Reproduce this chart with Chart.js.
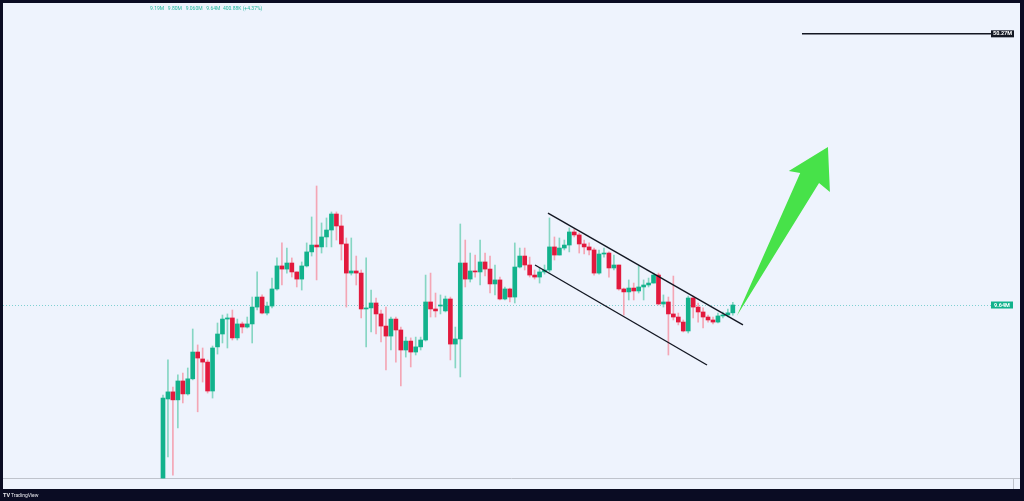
<!DOCTYPE html>
<html><head><meta charset="utf-8">
<script src="https://cdn.jsdelivr.net/npm/chart.js@4.4.1/dist/chart.umd.min.js"></script>
<style>
html,body{margin:0;padding:0;background:#0a0c23;width:1024px;height:501px;overflow:hidden}
canvas{display:block}
</style></head><body>
<canvas id="c" width="1024" height="501"></canvas>
<script>
// ---- candle data (prices in millions) ----
const opens=[3.36,5.44,5.68,5.41,6.07,5.61,6.15,7.24,6.94,6.81,
5.71,7.47,8.08,8.85,8.91,7.89,8.59,8.43,8.59,9.52,
10.12,9.18,9.58,10.63,12.23,12.00,12.45,11.79,11.29,12.23,
13.32,13.89,13.73,14.59,15.22,16.78,15.60,13.98,11.71,11.86,
11.71,9.41,9.47,9.76,9.13,8.48,7.98,8.85,8.28,7.33,
7.74,7.24,7.47,7.79,9.82,9.41,9.58,9.30,10.00,7.60,
7.84,12.45,11.29,11.86,11.79,12.53,12.00,10.96,11.23,10.00,
10.63,10.12,12.15,12.99,12.30,11.57,11.43,11.79,11.93,13.73,
13.07,13.64,13.89,15.04,14.77,13.98,13.73,13.48,11.71,13.15,
13.23,12.08,12.30,10.63,10.44,10.69,10.50,10.76,10.89,11.02,
11.57,9.70,9.82,9.13,8.96,8.69,8.23,10.06,9.52,9.24,
8.96,8.80,8.69,9.02,9.07,9.19];
const highs=[5.57,6.90,5.85,6.30,6.37,6.57,8.33,7.56,7.42,6.90,
7.51,8.64,9.07,9.13,9.35,8.85,8.69,8.96,10.12,11.79,
10.25,9.82,11.36,12.84,14.07,13.64,12.84,11.79,12.53,14.07,
16.48,19.90,15.89,16.38,16.99,16.99,16.68,14.50,14.50,12.99,
11.93,12.84,10.56,10.06,9.35,9.52,8.96,8.96,8.43,7.93,
7.89,7.93,7.93,11.57,11.71,10.37,10.25,10.18,10.12,8.43,
15.79,14.32,13.23,13.07,14.32,13.23,12.99,12.30,11.43,10.76,
10.69,14.07,13.64,13.64,12.91,11.93,12.08,12.30,16.38,14.59,
14.50,14.32,15.41,15.32,14.95,14.32,14.07,13.64,13.48,13.64,
13.32,13.07,12.30,10.69,11.23,11.02,12.23,11.23,11.36,11.71,
11.71,10.25,10.12,11.50,9.18,8.80,10.18,10.18,9.76,9.47,
9.07,8.96,9.18,9.24,9.41,9.80];
const lows=[3.36,3.82,3.42,4.56,5.31,5.57,6.11,5.03,6.03,5.64,
5.47,7.15,7.65,7.42,7.79,7.79,8.13,8.38,7.65,9.35,
9.13,9.07,9.47,10.56,10.89,11.71,11.43,10.76,10.56,12.15,
12.99,11.23,13.23,13.73,13.73,14.32,12.68,9.52,11.57,10.89,
8.91,7.47,8.18,8.08,7.70,6.49,7.33,6.81,5.89,7.02,
6.61,7.11,7.33,7.74,8.96,8.96,9.13,9.24,6.90,6.57,
6.22,10.76,11.09,11.43,10.89,11.50,10.37,10.25,9.94,9.94,
9.82,9.76,12.08,11.93,11.43,11.29,11.02,11.64,11.79,12.68,
13.07,13.48,13.32,14.59,13.23,13.15,13.07,11.57,11.64,12.91,
11.43,11.93,10.56,9.07,9.94,9.94,10.37,9.94,10.76,11.02,
9.64,9.52,7.11,8.80,8.54,8.18,8.13,8.91,8.69,8.38,
8.69,8.59,8.64,8.91,8.96,9.06];
const closes=[5.47,5.68,5.41,6.07,5.61,6.15,7.24,6.98,6.81,5.71,
7.42,8.08,8.85,8.91,7.89,8.59,8.43,8.59,9.52,10.12,
9.18,9.58,10.63,12.23,12.00,12.45,11.79,11.29,12.23,13.32,
13.89,13.73,14.59,15.22,16.78,15.60,13.98,11.71,11.86,11.71,
9.41,9.47,9.76,9.13,8.48,7.98,8.85,8.28,7.33,7.74,
7.24,7.47,7.79,9.82,9.41,9.30,9.64,10.00,7.60,7.84,
12.45,11.29,11.86,11.79,12.53,12.00,10.96,11.23,10.00,10.63,
10.12,12.15,12.99,12.30,11.57,11.43,11.79,11.93,13.73,13.07,
13.64,13.89,15.04,14.77,13.98,13.73,13.48,11.71,13.15,13.23,
12.08,12.30,10.63,10.44,10.69,10.50,10.76,10.89,11.02,11.57,
9.70,9.82,9.13,8.96,8.69,8.23,10.06,9.52,9.24,8.96,
8.80,8.69,9.02,9.07,9.19,9.64];

// ---- drawings (x = bar index, y = price in millions) ----
const channelUpper=[[77.7,16.88],[117.05,8.54]];
const channelLower=[[75.08,12.30],[109.79,6.69]];
const targetLevel=50.27;
const targetRay=[128.96,167.1];
const arrowPts=[[115.8,9.02],[128.6,21.54],[126.3,21.80],[134.2,25.23],[134.6,19.18],[132.4,20.27]];
const headerText='9.19M   9.80M   9.060M   9.64M  400.88K (+4.37%)';
const lastLabel='9.64M';
const targetLabel='50.27M';

const UP='#12b28c', DOWN='#e2193d', UPW='#86d6c3', DOWNW='#f4a6b5';
const PANEL='#eef3fd', DARK='#0a0c23';

const idx=opens.map((_,i)=>i);
const isUp=i=>closes[i]>=opens[i];

const plugin={
  id:'tv',
  beforeDraw(chart){
    const {ctx,chartArea:a}=chart;
    ctx.save();
    ctx.fillStyle=DARK; ctx.fillRect(0,0,chart.width,chart.height);
    ctx.fillStyle=PANEL; ctx.fillRect(a.left,a.top,a.right-a.left,a.bottom-a.top);
    ctx.restore();
  },
  beforeDatasetsDraw(chart){
    const {ctx,chartArea:a,scales:{y}}=chart;
    const py=Math.round(y.getPixelForValue(closes[closes.length-1]))+0.5;
    ctx.save();
    ctx.strokeStyle='#7fd0d2'; ctx.lineWidth=1; ctx.setLineDash([1,2]);
    ctx.beginPath(); ctx.moveTo(a.left,py); ctx.lineTo(991,py); ctx.stroke();
    ctx.setLineDash([]);
    // pane separator
    ctx.strokeStyle='#bfc3cc';
    ctx.beginPath(); ctx.moveTo(a.left,478.5); ctx.lineTo(a.right,478.5); ctx.stroke();
    ctx.beginPath(); ctx.moveTo(1013.5,478.5); ctx.lineTo(1013.5,a.bottom); ctx.stroke();
    ctx.restore();
  },
  afterDatasetsDraw(chart){
    const {ctx,chartArea:a,scales:{x,y}}=chart;
    ctx.save();
    // arrow
    ctx.fillStyle='#47e249';
    ctx.beginPath();
    arrowPts.forEach((p,i)=>{const px=x.getPixelForValue(p[0]),py=y.getPixelForValue(p[1]); i?ctx.lineTo(px,py):ctx.moveTo(px,py);});
    ctx.closePath(); ctx.fill();
    // last price label
    const ly=y.getPixelForValue(closes[closes.length-1]);
    ctx.fillStyle=UP; ctx.fillRect(991,ly-3.5,22,7);
    ctx.fillStyle='#fff'; ctx.font='bold 5.5px Roboto'; ctx.textAlign='center'; ctx.textBaseline='middle';
    ctx.fillText(lastLabel,1002,ly+0.3);
    // target label
    const ty=y.getPixelForValue(targetLevel);
    ctx.fillStyle='#131722'; ctx.fillRect(991,ty-3.5,23,7);
    ctx.fillStyle='#fff'; ctx.fillText(targetLabel,1002.5,ty+0.3);
    // header
    ctx.textAlign='left'; ctx.font='5px Roboto'; ctx.fillStyle='#22b7a0';
    ctx.fillText(headerText,150,8.5);
    // logo
    ctx.fillStyle='#e8e9ee'; ctx.font='bold 5.5px Roboto';
    ctx.fillText('TV',3,495.5);
    ctx.font='5px Roboto'; ctx.fillText('TradingView',11,495.5);
    ctx.restore();
  }
};

new Chart(document.getElementById('c'),{
  type:'bar',
  data:{datasets:[
    {type:'line',order:0,data:channelUpper.map(p=>({x:p[0],y:p[1]})),borderColor:'#131722',borderWidth:1.4,pointRadius:0},
    {type:'line',order:0,data:channelLower.map(p=>({x:p[0],y:p[1]})),borderColor:'#131722',borderWidth:1.4,pointRadius:0},
    {type:'line',order:0,data:targetRay.map(v=>({x:v,y:targetLevel})),borderColor:'#131722',borderWidth:1.4,pointRadius:0},
    {order:1,grouped:false,barThickness:4,minBarLength:1,borderWidth:0,
     data:idx.map(i=>({x:i,y:[opens[i],closes[i]]})),
     backgroundColor:c=>isUp(c.dataIndex)?UP:DOWN},
    {order:2,grouped:false,barThickness:1,borderWidth:0,
     data:idx.map(i=>({x:i,y:[lows[i],highs[i]]})),
     backgroundColor:c=>isUp(c.dataIndex)?UPW:DOWNW}
  ]},
  options:{
    responsive:false,animation:false,
    layout:{padding:{left:3,right:4,top:3,bottom:12}},
    plugins:{legend:{display:false},tooltip:{enabled:false}},
    scales:{
      x:{type:'linear',display:false,min:-32.29,max:172.96,bounds:'data',offset:false,grid:{display:false}},
      y:{type:'logarithmic',display:false,min:3.144,max:60.65,bounds:'data',grid:{display:false}}
    }
  },
  plugins:[plugin]
});
</script>
</body></html>
